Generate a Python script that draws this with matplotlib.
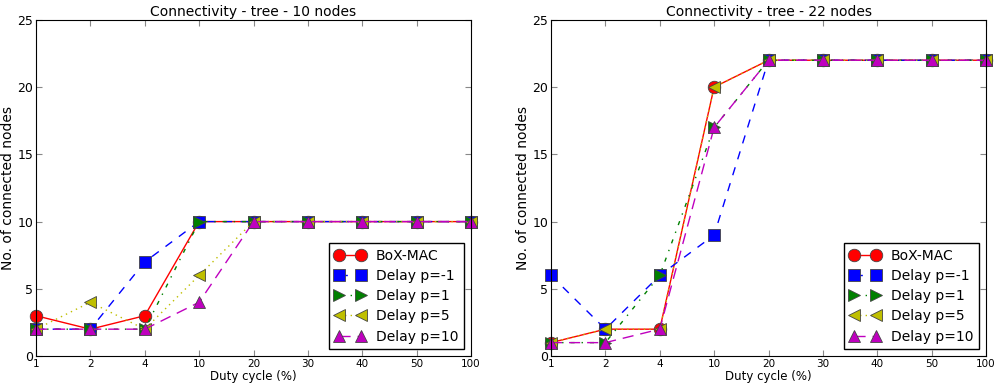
import matplotlib.pyplot as plt
import numpy as np

# datos
duty = ['1', '2', '4', '10', '20', '30', '40', '50', '100']

box10 = [3, 2, 3, 10, 10, 10, 10, 10, 10]
dm1_10 = [2, 2, 7, 10, 10, 10, 10, 10, 10]
d1_10 = [2, 2, 2, 10, 10, 10, 10, 10, 10]
d5_10 = [2, 4, 2, 6, 10, 10, 10, 10, 10]
d10_10 = [2, 2, 2, 4, 10, 10, 10, 10, 10]

box22 = [1, 2, 2, 20, 22, 22, 22, 22, 22]
dm1_22 = [6, 2, 6, 9, 22, 22, 22, 22, 22]
d1_22 = [1, 1, 6, 17, 22, 22, 22, 22, 22]
d5_22 = [1, 2, 2, 20, 22, 22, 22, 22, 22]
d10_22 = [1, 1, 2, 17, 22, 22, 22, 22, 22]

labels = ['BoX-MAC', 'Delay p=-1', 'Delay p=1', 'Delay p=5', 'Delay p=10']
estilos = [
    dict(color='r', marker='o', ls='-'),
    dict(color='b', marker='s', ls='--', dashes=(6, 6)),
    dict(color='g', marker='>', ls='-.', dashes=(3, 5, 1, 5)),
    dict(color='y', marker='<', ls=':', dashes=(1, 3)),
    dict(color='m', marker='^', ls='--', dashes=(8, 5)),
]

plt.rcParams['xtick.direction'] = 'in'
plt.rcParams['ytick.direction'] = 'in'

fig = plt.figure(figsize=(10, 3.9), dpi=100)
ax1 = fig.add_axes([0.036, 0.087, 0.435, 0.862])
ax2 = fig.add_axes([0.551, 0.087, 0.435, 0.862])

x = np.arange(len(duty))
for ax, series, title in [
    (ax1, [box10, dm1_10, d1_10, d5_10, d10_10], 'Connectivity - tree - 10 nodes'),
    (ax2, [box22, dm1_22, d1_22, d5_22, d10_22], 'Connectivity - tree - 22 nodes'),
]:
    for s, lab, st in zip(series, labels, estilos):
        ax.plot(x, s, label=lab, lw=1, ms=9, mec='#444444', mew=0.6,
                clip_on=False, **st)
    ax.set_xlim(0, len(duty) - 1)
    ax.set_ylim(0, 25)
    ax.set_xticks(x)
    ax.set_xticklabels(duty, fontsize=7.5)
    ax.set_yticks([0, 5, 10, 15, 20, 25])
    ax.tick_params(axis='y', labelsize=9)
    ax.tick_params(top=True, right=True, length=4, color='#888888', pad=2)
    ax.set_title(title, fontsize=10, pad=3)
    ax.set_xlabel('Duty cycle (%)', fontsize=8.5, labelpad=1)
    ax.set_ylabel('No. of connected nodes', fontsize=10, labelpad=2)
    leg = ax.legend(loc='lower right', numpoints=2, fontsize=10, fancybox=False,
                    framealpha=1, edgecolor='k', borderaxespad=0.5,
                    handlelength=2.2, labelspacing=0.45)
    leg.get_frame().set_linewidth(1)

fig.savefig('out.png', dpi=100)
